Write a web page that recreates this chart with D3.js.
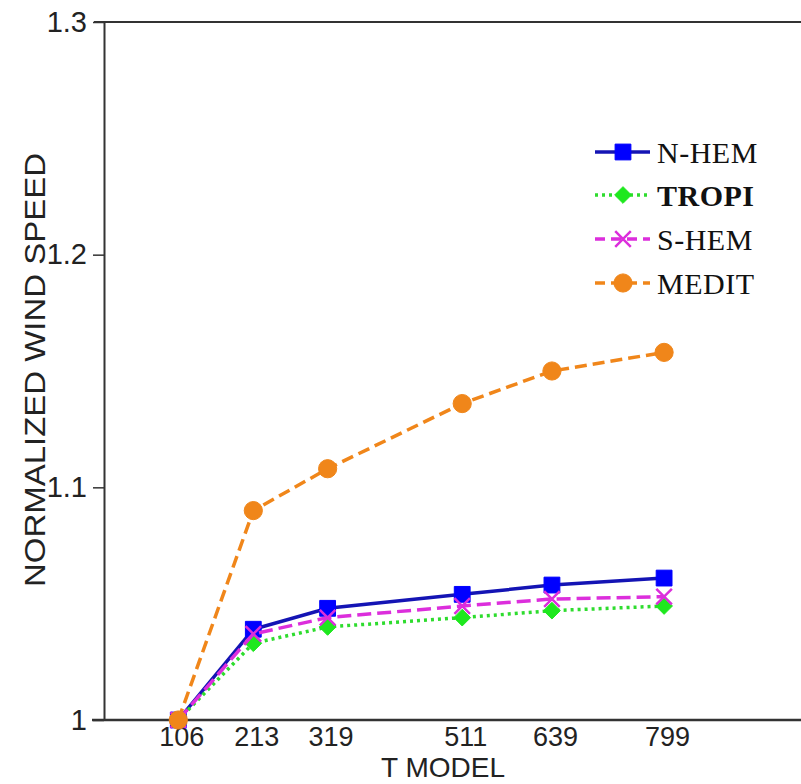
<!DOCTYPE html>
<html>
<head>
<meta charset="utf-8">
<script src="https://cdn.jsdelivr.net/npm/d3@7"></script>
<style>
  body { margin: 0; background: #fff; }
  svg { display: block; }
</style>
</head>
<body>
<svg></svg>
<script>
// values
const tModel = [106, 213, 319, 511, 639, 799]
const nHem  = [1.000, 1.039, 1.048, 1.054, 1.058, 1.061]
const tropi = [1.000, 1.033, 1.040, 1.044, 1.047, 1.049]
const sHem  = [1.000, 1.037, 1.044, 1.049, 1.052, 1.053]
const medit = [1.000, 1.090, 1.108, 1.136, 1.150, 1.158]
const yTicks = [1, 1.1, 1.2, 1.3]
const seriesNames = ["N-HEM", "TROPI", "S-HEM", "MEDIT"]

const W = 801, H = 784

const svg = d3.select("svg")
    .attr("width", W)
    .attr("height", H)

const x = d3.scaleLinear().domain([0, 1000]).range([104, 805])
const y = d3.scaleLinear().domain([1, 1.3]).range([720, 22])

// diamond as a square turned 45 degrees, a bit fatter than d3's
const fatDiamond = {
    draw(context, size) {
        const r = Math.sqrt(size / 2)
        context.moveTo(0, -r)
        context.lineTo(r, 0)
        context.lineTo(0, r)
        context.lineTo(-r, 0)
        context.closePath()
    }
}

const series = [
    {name: seriesNames[0], values: nHem,  line: "#1414b4", fill: "#0000ff", dash: null,    symbol: d3.symbolSquare, size: 250, bold: false},
    {name: seriesNames[1], values: tropi, line: "#2edc2e", fill: "#1ee81e", dash: "3,4",   symbol: fatDiamond,      size: 140, bold: true},
    {name: seriesNames[2], values: sHem,  line: "#dc2edc", fill: "none",    dash: "14,6",  symbol: d3.symbolTimes,  size: 160, bold: false},
    {name: seriesNames[3], values: medit, line: "#f0861a", fill: "#f0861a", dash: "12,6",  symbol: d3.symbolCircle, size: 260, bold: false}
]

// frame lines
const axisColor = "#333"
svg.append("line")
    .attr("x1", 94).attr("x2", W)
    .attr("y1", y(1.3)).attr("y2", y(1.3))
    .attr("stroke", axisColor).attr("stroke-width", 2)
svg.append("line")
    .attr("x1", 92).attr("x2", W)
    .attr("y1", y(1)).attr("y2", y(1))
    .attr("stroke", axisColor).attr("stroke-width", 2.5)

// y axis
const yAxis = svg.append("g")
    .attr("transform", `translate(${x(0)},0)`)
    .call(d3.axisLeft(y)
        .tickValues(yTicks)
        .tickSize(11)
        .tickSizeOuter(0)
        .tickPadding(6)
        .tickFormat(d => d === 1 ? "1" : d.toFixed(1)))
yAxis.select(".domain").attr("stroke", axisColor).attr("stroke-width", 2)
yAxis.selectAll(".tick line").attr("stroke", axisColor).attr("stroke-width", 1.5)
yAxis.selectAll("text")
    .attr("font-family", "Liberation Sans, Arial, sans-serif")
    .attr("font-size", 29)
    .attr("fill", "#222")

// x axis (labels only)
const xAxis = svg.append("g")
    .attr("transform", `translate(0,${y(1)})`)
    .call(d3.axisBottom(x)
        .tickValues(tModel)
        .tickSize(0)
        .tickPadding(7)
        .tickFormat(d3.format("d")))
xAxis.select(".domain").remove()
xAxis.selectAll("text")
    .attr("dx", 3)
    .attr("font-family", "Liberation Sans, Arial, sans-serif")
    .attr("font-size", 27)
    .attr("fill", "#222")

// axis titles
svg.append("text")
    .attr("x", 443)
    .attr("y", 777)
    .attr("text-anchor", "middle")
    .attr("font-family", "Liberation Sans, Arial, sans-serif")
    .attr("font-size", 28)
    .attr("fill", "#222")
    .text("T MODEL")

svg.append("text")
    .attr("transform", "translate(45,370) rotate(-90)")
    .attr("text-anchor", "middle")
    .attr("font-family", "Liberation Sans, Arial, sans-serif")
    .attr("font-size", 29)
    .attr("textLength", 434)
    .attr("lengthAdjust", "spacingAndGlyphs")
    .attr("fill", "#222")
    .text("NORMALIZED WIND SPEED")

// lines + markers
const line = d3.line()
    .x((d, i) => x(tModel[i]))
    .y(d => y(d))

series.forEach(s => {
    svg.append("path")
        .datum(s.values)
        .attr("d", line)
        .attr("fill", "none")
        .attr("stroke", s.line)
        .attr("stroke-width", 3.5)
        .attr("stroke-dasharray", s.dash)

    svg.selectAll(null)
        .data(s.values)
        .enter()
        .append("path")
        .attr("transform", (d, i) => `translate(${x(tModel[i])},${y(d)})`)
        .attr("d", d3.symbol().type(s.symbol).size(s.size))
        .attr("fill", s.fill)
        .attr("stroke", s.fill === "none" ? s.line : s.fill)
        .attr("stroke-width", s.fill === "none" ? 2.5 : 1)
})

// legend
const legendY = [152, 195, 239, 283]
const legend = svg.selectAll("g.legend")
    .data(series)
    .enter()
    .append("g")
    .attr("class", "legend")
    .attr("transform", (d, i) => `translate(595,${legendY[i]})`)

legend.append("line")
    .attr("x1", 0).attr("x2", 55)
    .attr("stroke", d => d.line)
    .attr("stroke-width", 3.5)
    .attr("stroke-dasharray", d => d.dash ? (d.dash === "3,4" ? "3,4" : "10,6") : null)

legend.append("path")
    .attr("transform", "translate(28,0)")
    .attr("d", d => d3.symbol().type(d.symbol).size(d.size)())
    .attr("fill", d => d.fill)
    .attr("stroke", d => d.fill === "none" ? d.line : d.fill)
    .attr("stroke-width", d => d.fill === "none" ? 2.5 : 1)

legend.append("text")
    .attr("x", 62)
    .attr("dy", "0.35em")
    .attr("font-family", "Liberation Serif, Times New Roman, serif")
    .attr("font-size", 30)
    .attr("letter-spacing", 0.5)
    .attr("font-weight", d => d.bold ? "bold" : "normal")
    .attr("fill", "#111")
    .text(d => d.name)
</script>
</body>
</html>
